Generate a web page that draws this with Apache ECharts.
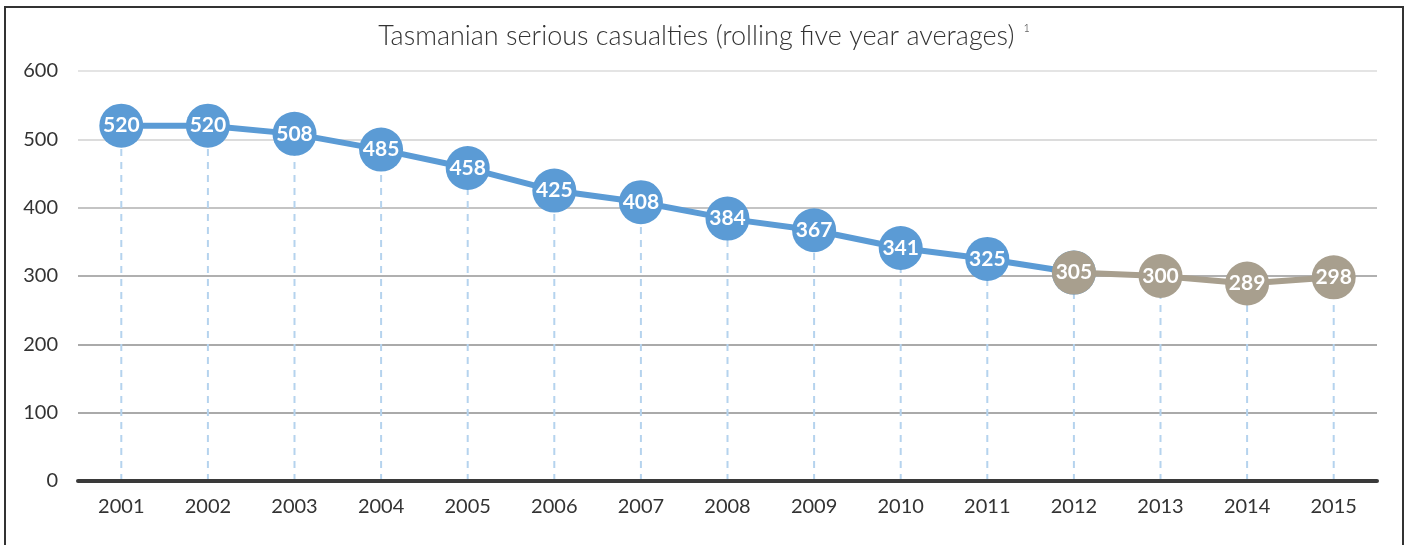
<!DOCTYPE html>
<html><head><meta charset="utf-8">
<script src="https://cdn.jsdelivr.net/npm/echarts@6/dist/echarts.min.js"></script>
<style>html,body{margin:0;padding:0;background:#fff}#c{width:1408px;height:545px}</style>
</head><body><div id="c"></div>
<script>
const years = ['2001','2002','2003','2004','2005','2006','2007','2008','2009','2010','2011','2012','2013','2014','2015'];
const actualValues = [520,520,508,485,458,425,408,384,367,341,325,305,null,null,null];
const recentValues = [null,null,null,null,null,null,null,null,null,null,null,305,300,289,298];
const allValues = [520,520,508,485,458,425,408,384,367,341,325,305,300,289,298];
const yTicks = [0,100,200,300,400,500,600];

const FONT = 'Lato, "Open Sans", sans-serif';
const chart = echarts.init(document.getElementById('c'));
const labelStyle = {show:true, position:'inside', color:'#fff', fontWeight:'bold', fontSize:21, fontFamily:FONT};
chart.setOption({
  animation:false,
  title:{
    text:'{t|Tasmanian serious casualties (rolling five year averages)} {s|1}',
    left:'center', top:18,
    textStyle:{rich:{
      t:{fontSize:27, fontWeight:300, color:'#333', fontFamily:FONT},
      s:{fontSize:11, fontWeight:300, color:'#333', fontFamily:FONT, verticalAlign:'top', padding:[0,0,16,4]}
    }}
  },
  graphic:[{type:'polyline', shape:{points:[[5,545],[5,7],[1403,7],[1403,545]]}, style:{stroke:'#333', lineWidth:2, fill:null}, z:100}],
  grid:{left:78, right:31, top:71, bottom:64},
  xAxis:{
    type:'category', data:years, boundaryGap:true,
    axisLine:{show:true, lineStyle:{color:'#3a3a3a', width:4}},
    axisTick:{show:false},
    axisLabel:{color:'#333', fontSize:20, fontFamily:FONT, margin:16},
    splitLine:{show:false}, z:5
  },
  yAxis:{
    type:'value', min:yTicks[0], max:yTicks[yTicks.length-1], interval:100,
    axisLine:{show:false}, axisTick:{show:false},
    axisLabel:{color:'#333', fontSize:20, fontFamily:FONT, margin:20},
    splitLine:{lineStyle:{color:['#aaa','#aaa','#aaa','#b0b0b0','#c4c4c4','#dcdcdc','#e4e4e4'], width:2}}
  },
  series:[
    {type:'custom', z:1, silent:true, data: allValues.map((v,i)=>[i,v]),
     renderItem:function(params, api){
       const p0 = api.coord([api.value(0), 0]);
       const p1 = api.coord([api.value(0), api.value(1)]);
       return {type:'line', shape:{x1:p0[0], y1:p0[1], x2:p1[0], y2:p1[1]},
         style:{stroke:'#b5d3ee', lineWidth:2, lineDash:[7,6]}};
     }},
    {type:'line', data:actualValues, z:3, symbol:'circle', symbolSize:44,
     lineStyle:{color:'#5b9bd5', width:6}, itemStyle:{color:'#5b9bd5'},
     label:labelStyle, connectNulls:false},
    {type:'line', data:recentValues, z:4, symbol:'circle', symbolSize:44,
     lineStyle:{color:'#a89f8e', width:6}, itemStyle:{color:'#a89f8e'},
     label:labelStyle}
  ]
});
</script></body></html>
